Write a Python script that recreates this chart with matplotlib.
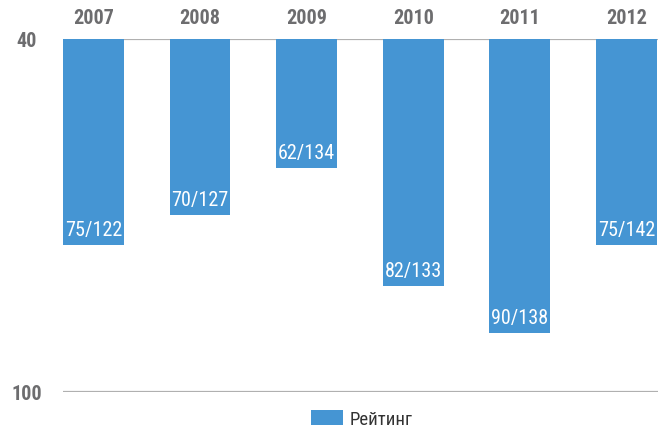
import matplotlib
matplotlib.use("Agg")
import matplotlib.pyplot as plt
from matplotlib import font_manager

# Rating data (rank / number of countries)
years = ["2007", "2008", "2009", "2010", "2011", "2012"]
ranks = [75, 70, 62, 82, 90, 75]
totals = [122, 127, 134, 133, 138, 142]

available = {f.name for f in font_manager.fontManager.ttflist}
narrow = [f for f in ["Roboto Condensed", "Liberation Sans Narrow"] if f in available]
plt.rcParams["font.family"] = narrow + ["Roboto", "DejaVu Sans"]

bar_color = "#4595d3"
text_gray = "#6d6d6f"
grid_gray = "#b0b0b0"

fig = plt.figure(figsize=(6.58, 4.31), dpi=100)
ax = fig.add_axes([63 / 658, 38 / 431, 595 / 658, 353 / 431])

x = list(range(len(years)))
base = 40
ax.bar(x, [r - base for r in ranks], bottom=base, width=0.57, color=bar_color,
       label="Рейтинг", zorder=2)

for xi, r, t in zip(x, ranks, totals):
    ax.text(xi, r - 2.7, f"{r}/{t}", ha="center", va="center", color="white",
            fontsize=14.5, zorder=3)

for xi, yr in zip(x, years):
    ax.text(xi, 1.06, yr, transform=ax.get_xaxis_transform(), ha="center",
            va="center", color=text_gray, fontsize=14.5, fontweight="bold")

ax.set_ylim(100, 40)
ax.set_xlim(-0.285, 5.296)
ax.set_yticks([40, 100])
ax.set_yticklabels(["40", "100"], color=text_gray, fontsize=14.5,
                   fontweight="bold", ha="center")
ax.tick_params(axis="y", length=0, pad=26)
ax.set_xticks([])
for s in ax.spines.values():
    s.set_visible(False)
for yv in [40, 100]:
    ax.axhline(yv, color=grid_gray, linewidth=1.6, zorder=1)

fig.legend(loc="center left", bbox_to_anchor=(311 / 658, 11 / 431), frameon=False,
           fontsize=13.5, handlelength=1.7, handleheight=0.85, handletextpad=0.35,
           labelcolor="#333333", borderpad=0, borderaxespad=0)

fig.savefig("out.png", dpi=100)
